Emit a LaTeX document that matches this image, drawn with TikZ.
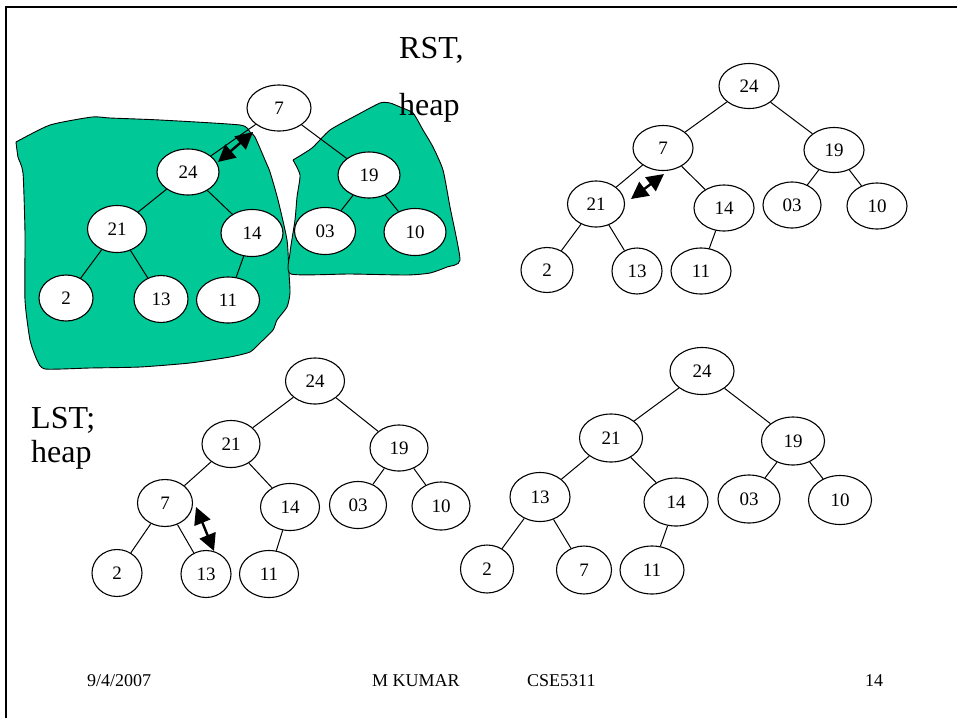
\documentclass[tikz,border=0pt]{standalone}
\usepackage{fontspec}
\setmainfont{Liberation Serif}
\usetikzlibrary{shapes.geometric,arrows.meta}
\definecolor{blobgreen}{RGB}{0,200,150}
\tikzset{
  x=1pt,y=-1pt,
  tn/.style={ellipse,draw,line width=1.1pt,fill=white,inner sep=0pt,
    minimum width=60pt,minimum height=46pt,font=\fontsize{19}{22}\selectfont},
  tedge/.style={line width=1pt},
  blob/.style={fill=blobgreen,draw=black,line width=0.9pt},
  swap/.style={line width=2.4pt,{Triangle[length=17pt,width=17pt]}-{Triangle[length=17pt,width=17pt]}},
  big/.style={font=\fontsize{32}{38}\selectfont,inner sep=0pt},
  foot/.style={font=\fontsize{18}{22}\selectfont,inner sep=0pt},
}
\begin{document}
\begin{tikzpicture}
\useasboundingbox (0,0) rectangle (957,718);
\fill[white] (0,0) rectangle (957,718);
% frame
\draw[line width=2.4pt] (957,7) -- (6,7) -- (6,718);

% green regions
\draw[blob] plot[smooth,tension=0.35] coordinates {
  (16,142) (50,125) (92,117) (110,118) (160,120) (240,125) (250,132)
  (255,137) (265,160) (270,172) (278,200) (287,240) (289,273) (290,293)
  (287,307) (277,320) (273,330) (260,343) (250,352) (230,357) (190,363)
  (140,367) (90,368) (45,369) (37,360) (30,340) (25,300) (25,233)
  (23,173) (18,157) (16,142)};
\draw[blob] plot[smooth,tension=0.35] coordinates {
  (293,160) (312,148) (330,130) (357,115) (380,103) (390,103) (400,107)
  (413,113) (423,130) (433,147) (443,170) (450,207) (460,260) (447,267)
  (430,273) (407,275) (350,274) (291,274) (290,253) (295,220) (297,197)
  (300,175) (293,160)};

% texts
\node[big,anchor=base west] (rst) at (399,58) {RST,};
\node[big,anchor=base west] (heapA) at (399,115) {heap};
\node[big,anchor=base west] (lst) at (31,428) {LST;};
\node[big,anchor=base west] (heapC) at (31,462) {heap};

% ---- Tree A (top left)
\node[tn,minimum width=64pt] (a7) at (279,108) {7};
\node[tn,minimum width=62pt] (a24) at (188,172) {24};
\node[tn,minimum width=62pt] (a19) at (369,175) {19};
\node[tn,minimum width=59pt,minimum height=47pt] (a21) at (117,229) {21};
\node[tn,minimum width=62pt,minimum height=47pt] (a14) at (252,233) {14};
\node[tn,minimum width=61pt,minimum height=47pt] (a03) at (325,231) {03};
\node[tn,minimum width=62pt,minimum height=47pt] (a10) at (415,232) {10};
\node[tn,minimum width=54pt] (a2) at (66,298) {2};
\node[tn,minimum width=54pt,minimum height=47pt] (a13) at (161,299) {13};
\node[tn,minimum width=63pt] (a11) at (228,300) {11};
\draw[tedge] (a7) -- (a24); \draw[tedge] (a7) -- (a19);
\draw[tedge] (a24) -- (a21); \draw[tedge] (a24) -- (a14);
\draw[tedge] (a21) -- (a2); \draw[tedge] (a21) -- (a13);
\draw[tedge] (a14) -- (a11);
\draw[tedge] (a19) -- (a03); \draw[tedge] (a19) -- (a10);
\coordinate (sa1) at (218,162); \coordinate (sa2) at (253,132);
\draw[swap] (sa1) -- (sa2);

% ---- Tree B (top right)
\node[tn,minimum height=45pt] (b24) at (749,86) {24};
\node[tn,minimum height=45pt] (b7) at (663,148) {7};
\node[tn,minimum height=45pt] (b19) at (834,150) {19};
\node[tn,minimum width=57pt] (b21) at (596,204) {21};
\node[tn] (b14) at (724,208) {14};
\node[tn,minimum width=58pt] (b03) at (792,205) {03};
\node[tn] (b10) at (877,206) {10};
\node[tn,minimum width=52pt,minimum height=45pt] (b2) at (547,270) {2};
\node[tn,minimum width=50pt] (b13) at (637,271) {13};
\node[tn] (b11) at (701,271) {11};
\draw[tedge] (b24) -- (b7); \draw[tedge] (b24) -- (b19);
\draw[tedge] (b7) -- (b21); \draw[tedge] (b7) -- (b14);
\draw[tedge] (b21) -- (b2); \draw[tedge] (b21) -- (b13);
\draw[tedge] (b14) -- (b11);
\draw[tedge] (b19) -- (b03); \draw[tedge] (b19) -- (b10);
\coordinate (sb1) at (631,199); \coordinate (sb2) at (664,174);
\draw[swap] (sb1) -- (sb2);

% ---- Tree C (lower left)
\node[tn,minimum width=59pt] (c24) at (315,381) {24};
\node[tn,minimum width=58pt,minimum height=47pt] (c21) at (231,444) {21};
\node[tn,minimum width=58pt] (c19) at (399,448) {19};
\node[tn,minimum width=55pt,minimum height=47pt] (c7) at (165,503) {7};
\node[tn,minimum width=59pt,minimum height=47pt] (c14) at (290,507) {14};
\node[tn,minimum width=57pt,minimum height=47pt] (c03) at (358,505) {03};
\node[tn,minimum width=58pt,minimum height=48pt] (c10) at (441,506) {10};
\node[tn,minimum width=50pt,minimum height=47pt] (c2) at (117,573) {2};
\node[tn,minimum width=50pt,minimum height=47pt] (c13) at (206,574) {13};
\node[tn,minimum width=59pt,minimum height=47pt] (c11) at (269,574) {11};
\draw[tedge] (c24) -- (c21); \draw[tedge] (c24) -- (c19);
\draw[tedge] (c21) -- (c7); \draw[tedge] (c21) -- (c14);
\draw[tedge] (c7) -- (c2); \draw[tedge] (c7) -- (c13);
\draw[tedge] (c14) -- (c11);
\draw[tedge] (c19) -- (c03); \draw[tedge] (c19) -- (c10);
\coordinate (sc1) at (196,507); \coordinate (sc2) at (214,551);
\draw[swap] (sc1) -- (sc2);

% ---- Tree D (lower right)
\node[tn,minimum width=64pt,minimum height=47pt] (d24) at (702,371) {24};
\node[tn,minimum width=63pt,minimum height=48pt] (d21) at (611,438) {21};
\node[tn,minimum width=63pt,minimum height=48pt] (d19) at (793,441) {19};
\node[tn,minimum width=60pt,minimum height=49pt] (d13) at (540,497) {13};
\node[tn,minimum width=64pt,minimum height=48pt] (d14) at (676,502) {14};
\node[tn,minimum width=62pt,minimum height=48pt] (d03) at (749,499) {03};
\node[tn,minimum width=63pt,minimum height=49pt] (d10) at (840,500) {10};
\node[tn,minimum width=53pt,minimum height=48pt] (d2) at (487,569) {2};
\node[tn,minimum width=55pt,minimum height=48pt] (d7) at (584,570) {7};
\node[tn,minimum width=64pt,minimum height=48pt] (d11) at (652,570) {11};
\draw[tedge] (d24) -- (d21); \draw[tedge] (d24) -- (d19);
\draw[tedge] (d21) -- (d13); \draw[tedge] (d21) -- (d14);
\draw[tedge] (d13) -- (d2); \draw[tedge] (d13) -- (d7);
\draw[tedge] (d14) -- (d11);
\draw[tedge] (d19) -- (d03); \draw[tedge] (d19) -- (d10);

% footer
\node[foot,anchor=base west] (date) at (87,686) {9/4/2007};
\node[foot,anchor=base west] (auth) at (372,686) {M KUMAR};
\node[foot,anchor=base west] (course) at (527,686) {CSE5311};
\node[foot,anchor=base west] (page) at (865,686) {14};
\end{tikzpicture}
\end{document}
